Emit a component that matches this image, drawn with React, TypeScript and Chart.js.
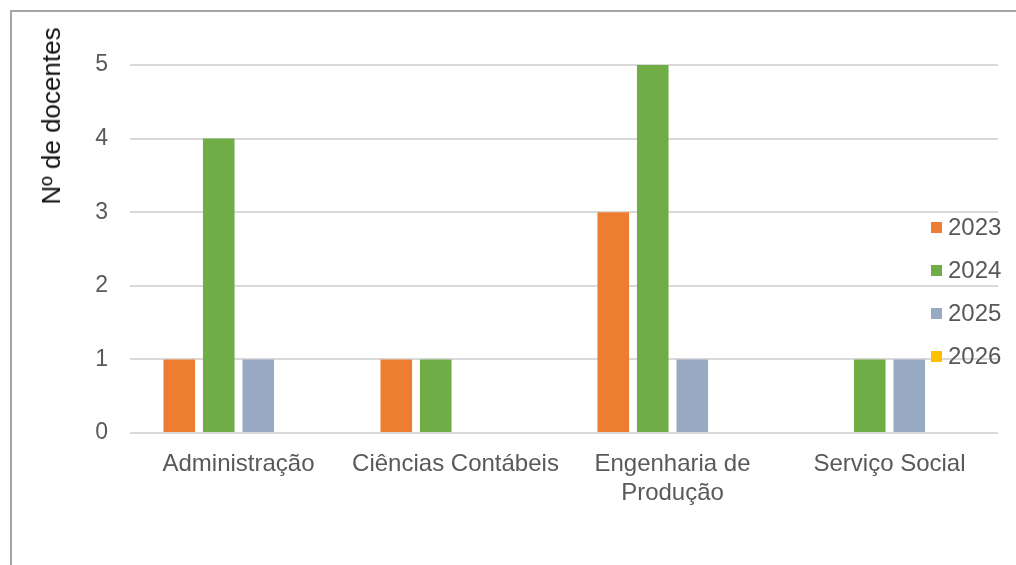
import React, { useEffect, useRef } from "react";
import { Chart, registerables } from "chart.js";

Chart.register(...registerables);

const categories: (string | string[])[] = [
  "Administração",
  "Ciências Contábeis",
  ["Engenharia de", "Produção"],
  "Serviço Social",
];
const seriesNames = ["2023", "2024", "2025", "2026"];
const values2023 = [1, 1, 3, 0];
const values2024 = [4, 1, 5, 1];
const values2025 = [1, 0, 1, 1];
const values2026 = [0, 0, 0, 0];
const seriesColors = ["#ED7D31", "#70AD47", "#98A9C4", "#FFC000"];
const yTicks = [0, 1, 2, 3, 4, 5];
const yTitle = "Nº de docentes";

const FONT = "'Liberation Sans', Arial, sans-serif";

export default function App() {
  const ref = useRef<HTMLCanvasElement | null>(null);

  useEffect(() => {
    if (!ref.current) return;
    const seriesValues = [values2023, values2024, values2025, values2026];
    const chart = new Chart(ref.current, {
      type: "bar",
      data: {
        labels: categories,
        datasets: seriesNames.map((name, i) => ({
          label: name,
          data: seriesValues[i],
          backgroundColor: seriesColors[i],
          borderWidth: 0,
          categoryPercentage: 0.728,
          barPercentage: 0.8,
        })),
      },
      options: {
        animation: false,
        responsive: false,
        maintainAspectRatio: false,
        layout: { padding: { left: 0, top: 65, right: 18, bottom: 0 } },
        plugins: {
          legend: { display: false },
          tooltip: { enabled: false },
        },
        scales: {
          x: {
            grid: { display: false, drawTicks: false },
            border: { display: false },
            ticks: {
              color: "#595959",
              font: { family: FONT, size: 24, lineHeight: 1.2 },
              padding: 17,
              maxRotation: 0,
              autoSkip: false,
            },
            afterFit: (s: any) => {
              s.height = 565 - 433;
            },
          },
          y: {
            min: 0,
            max: 5,
            afterBuildTicks: (s: any) => {
              s.ticks = yTicks.map((v) => ({ value: v }));
            },
            grid: { color: "#d9d9d9", lineWidth: 2, drawTicks: false },
            border: { display: false },
            ticks: {
              color: "#595959",
              font: { family: FONT, size: 23 },
              padding: 22,
            },
            afterFit: (s: any) => {
              s.width = 130;
            },
          },
        },
      },
    });
    return () => chart.destroy();
  }, []);

  return (
    <div
      style={{
        position: "fixed",
        left: 0,
        top: 0,
        width: 1016,
        height: 565,
        background: "#fff",
        overflow: "hidden",
        fontFamily: FONT,
      }}
    >
      <div
        style={{
          position: "absolute",
          left: 10,
          top: 10,
          width: 1016,
          height: 565,
          borderTop: "2px solid #a6a6a6",
          borderLeft: "2px solid #a6a6a6",
          boxSizing: "border-box",
        }}
      />
      <canvas
        ref={ref}
        width={1016}
        height={565}
        style={{ position: "absolute", left: 0, top: 0, width: 1016, height: 565 }}
      />
      <div
        style={{
          position: "absolute",
          left: 51,
          top: 116,
          transform: "translate(-50%, -50%) rotate(-90deg)",
          whiteSpace: "nowrap",
          fontSize: 26,
          color: "#111",
          lineHeight: 1,
        }}
      >
        {yTitle}
      </div>
      {seriesNames.map((name, i) => (
        <div
          key={name}
          style={{
            position: "absolute",
            left: 931,
            top: 227 + i * 43,
            transform: "translateY(-50%)",
            display: "flex",
            alignItems: "center",
            fontSize: 24,
            color: "#595959",
            lineHeight: 1,
          }}
        >
          <span
            style={{
              display: "inline-block",
              width: 11,
              height: 11,
              background: seriesColors[i],
              marginRight: 6,
            }}
          />
          <span>{name}</span>
        </div>
      ))}
    </div>
  );
}
